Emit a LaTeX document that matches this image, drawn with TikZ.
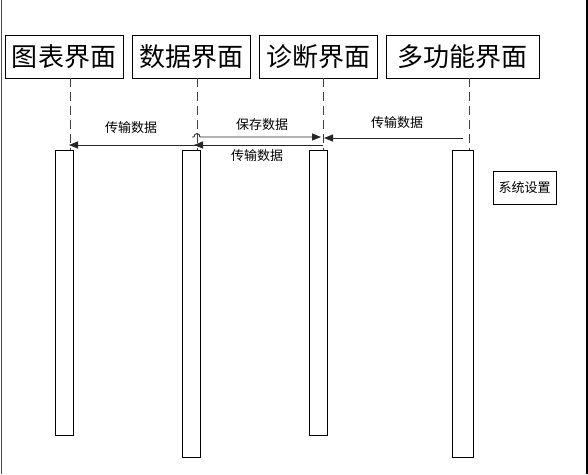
\documentclass[tikz,border=0pt]{standalone}
\usepackage{fontspec}
\newfontfamily\cjk{Noto Sans CJK SC}
\usetikzlibrary{arrows.meta}
\tikzset{
  header/.style={draw=black, line width=0.9pt, minimum height=43pt, inner sep=0pt, font=\cjk\fontsize{26}{30}\selectfont},
  lifeline/.style={draw=black!75, line width=0.9pt, dash pattern=on 9pt off 5pt},
  actbox/.style={draw=black, line width=0.9pt, fill=white},
  msg/.style={draw=black!85, line width=0.9pt, -{Triangle[length=9pt,width=7pt]}},
  lbl/.style={font=\cjk\fontsize{13}{15}\selectfont, inner sep=0pt},
  plainbox/.style={draw=black, line width=0.9pt, inner sep=0pt, font=\cjk\fontsize{13}{15}\selectfont},
}
\begin{document}
\begin{tikzpicture}[x=1pt,y=-1pt]
\useasboundingbox (0,0) rectangle (588,474);
% frame edges
\draw[black!70, line width=1pt] (1.5,0) -- (1.5,474);
\draw[black, line width=1.2pt] (587,0) -- (587,474);

% headers
\node[header, minimum width=118pt] (h1) at (64,56.5) {图表界面};
\node[header, minimum width=118pt] (h2) at (191,56.5) {数据界面};
\node[header, minimum width=118pt] (h3) at (318,56.5) {诊断界面};
\node[header, minimum width=153pt] (h4) at (462.5,56.5) {多功能界面};

% activation boxes
\node[actbox, minimum width=18pt, minimum height=285pt, inner sep=0pt] (a1) at (64.5,292.5) {};
\node[actbox, minimum width=18pt, minimum height=307pt, inner sep=0pt] (a2) at (191.5,303.5) {};
\node[actbox, minimum width=18pt, minimum height=285pt, inner sep=0pt] (a3) at (318,292.5) {};
\node[actbox, minimum width=21pt, minimum height=307pt, inner sep=0pt] (a4) at (462.5,303.5) {};

% lifeline anchors
\coordinate (l1t) at (70,78);   \coordinate (l1b) at (70,150);
\coordinate (l2t) at (197,78);  \coordinate (l2b) at (197,150);
\coordinate (l3t) at (323,78);  \coordinate (l3b) at (323,150);
\coordinate (l4t) at (469,78);  \coordinate (l4b) at (469,150);
\draw[lifeline] (l1t) -- (l1b);
\draw[lifeline] (l2t) -- (l2b);
\draw[lifeline] (l3t) -- (l3b);
\draw[lifeline] (l4t) -- (l4b);

% message anchors
\coordinate (m1s) at (197,145);  \coordinate (m1e) at (69,145);
\coordinate (m2s) at (192,137);  \coordinate (m2a) at (194,137);
\coordinate (m2b) at (200,137);  \coordinate (m2e) at (321,137);
\coordinate (m3s) at (323,145);  \coordinate (m3e) at (194,145);
\coordinate (m4s) at (463,138);  \coordinate (m4e) at (324,138);

\draw[msg] (m1s) -- (m1e);
\draw[msg] (m2s) -- (m2a) .. controls (194,132.5) and (200,132.5) .. (m2b) -- (m2e);
\draw[msg] (m3s) -- (m3e);
\draw[msg] (m4s) -- (m4e);

% labels
\node[lbl] (t1) at (131,128) {传输数据};
\node[lbl] (t2) at (262,125) {保存数据};
\node[lbl] (t3) at (257,156) {传输数据};
\node[lbl] (t4) at (397,123) {传输数据};

% system settings
\node[plainbox, minimum width=63pt, minimum height=33pt] (sys) at (524.5,187.5) {系统设置};
\end{tikzpicture}
\end{document}
